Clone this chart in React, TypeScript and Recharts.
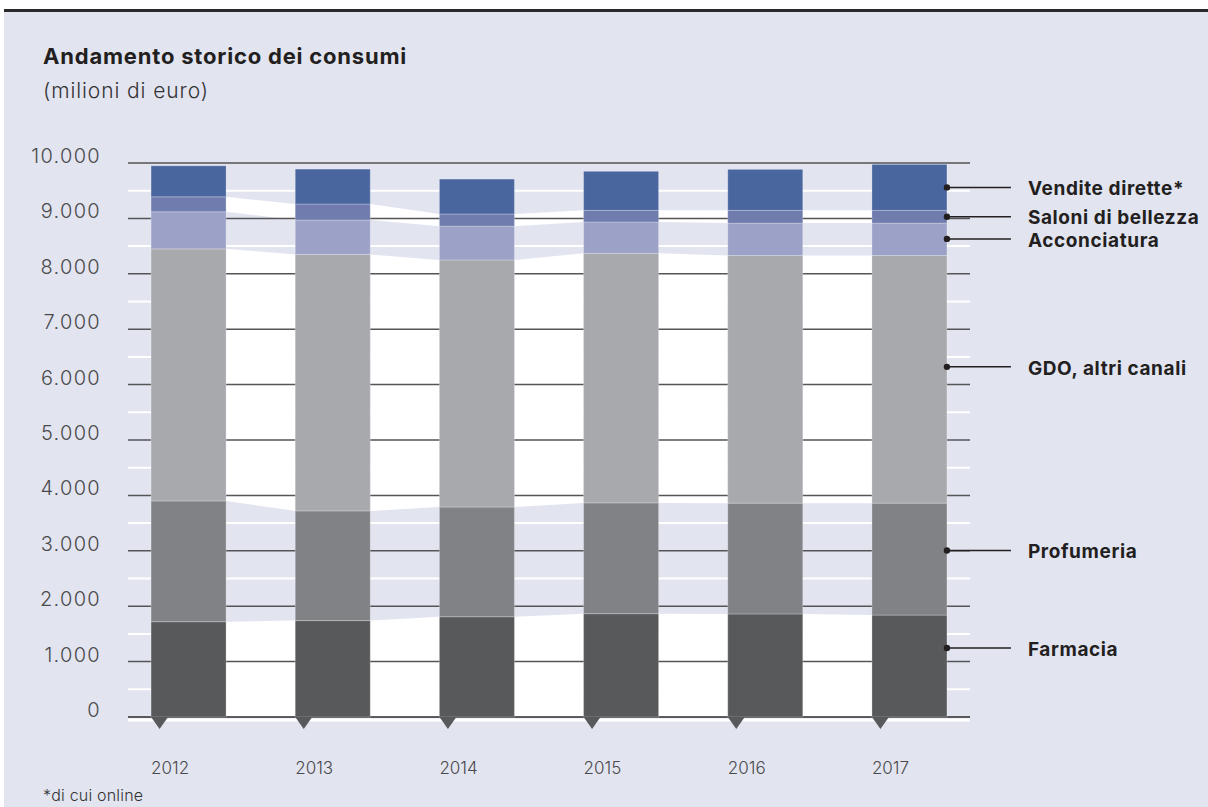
import React from "react";
import {
  ComposedChart,
  Area,
  Bar,
  XAxis,
  YAxis,
  ReferenceLine,
  ReferenceDot,
} from "recharts";

// Values, millions of euro, bottom segment first.
const years = ["2012", "2013", "2014", "2015", "2016", "2017"];
const farmacia = [1720, 1740, 1810, 1865, 1860, 1840];
const profumeria = [2180, 1980, 1980, 2000, 2000, 2020];
const gdo = [4550, 4630, 4460, 4505, 4470, 4470];
const acconciatura = [670, 620, 610, 565, 585, 585];
const saloni = [270, 290, 220, 210, 230, 230];
const vendite = [560, 630, 630, 705, 740, 830];

const seriesKeys = ["farmacia", "profumeria", "gdo", "acconciatura", "saloni", "vendite"];
const seriesNames = [
  "Farmacia",
  "Profumeria",
  "GDO, altri canali",
  "Acconciatura",
  "Saloni di bellezza",
  "Vendite dirette*",
];
const seriesColors = ["#58595b", "#818286", "#a8a9ac", "#9ca1c7", "#707cae", "#4a669f"];
// where each legend pointer touches the 2017 bar
const labelAnchors = [1245, 3005, 6320, 8630, 9030, 9560];
// bands that are painted white between bars (the others stay lavender)
const whiteBands = ["farmacia", "gdo", "saloni"];

const yTicks = [0, 1000, 2000, 3000, 4000, 5000, 6000, 7000, 8000, 9000, 10000];
const yHalfTicks = [500, 1500, 2500, 3500, 4500, 5500, 6500, 7500, 8500, 9500];
const xTicks = [0, 1, 2, 3, 4, 5];

const seriesValues = [farmacia, profumeria, gdo, acconciatura, saloni, vendite];
const HALF = 0.26; // half bar width, in year units
const BAR_W = 75; // same width in px

// every year gives a left edge, a centre (bar) and a right edge row
const rows: any[] = [];
years.forEach((year, i) => {
  let sum = 0;
  const band: any = {};
  const bar: any = { year };
  seriesKeys.forEach((k, j) => {
    band["band_" + k] = [sum, sum + seriesValues[j][i]];
    bar[k] = seriesValues[j][i];
    sum += seriesValues[j][i];
  });
  rows.push({ x: i - HALF, ...band });
  rows.push({ x: i, ...bar });
  rows.push({ x: i + HALF, ...band });
});

const FONT = "Inter, 'Noto Sans', sans-serif";
const INK = "#231f20";
const BG = "#e2e4f0";

const fmt = (v: number) => String(v).replace(/\B(?=(\d{3})+(?!\d))/g, ".");

function YTick(props: any) {
  const { x, y, payload } = props;
  return (
    <text
      x={x - 27}
      y={y - 7}
      dy="0.35em"
      textAnchor="end"
      fontFamily={FONT}
      fontWeight={300}
      fontSize={20}
      letterSpacing={1.3}
      fill="#4a4a4c"
    >
      {fmt(payload.value)}
    </text>
  );
}

function XTick(props: any) {
  const { x, y, payload } = props;
  const left = x - BAR_W / 2;
  return (
    <g>
      <polygon
        points={`${left},${y} ${left + 17},${y} ${left + 8.5},${y + 12}`}
        fill="#58595b"
      />
      <text
        x={left}
        y={y + 57}
        textAnchor="start"
        fontFamily={FONT}
        fontWeight={300}
        fontSize={17}
        fill="#4a4a4c"
      >
        {years[payload.value]}
      </text>
    </g>
  );
}

// fixed-width segment centred on the position the bar scale gives
function Segment(props: any) {
  const { x, y, width, height, fill } = props;
  if (!height || height <= 0) return null;
  const cx = x + width / 2;
  return (
    <rect
      x={cx - BAR_W / 2}
      y={y}
      width={BAR_W}
      height={height}
      fill={fill}
      stroke="#ffffff"
      strokeOpacity={0.25}
      strokeWidth={1}
    />
  );
}

const pointer = (label: string) => (props: any) => {
  const { cx, cy } = props;
  return (
    <g>
      <circle cx={cx} cy={cy} r={3.2} fill={INK} />
      <line x1={cx} y1={cy} x2={cx + 64} y2={cy} stroke={INK} strokeWidth={1.5} />
      <text
        x={cx + 81}
        y={cy + 1}
        dy="0.35em"
        fontFamily={FONT}
        fontWeight={700}
        fontSize={19}
        letterSpacing={0.6}
        fill={INK}
      >
        {label}
      </text>
    </g>
  );
};

export default function App() {
  return (
    <div
      style={{
        position: "absolute",
        left: 0,
        top: 0,
        width: 1208,
        height: 807,
        background: "#fff",
        overflow: "hidden",
        fontFamily: FONT,
      }}
    >
      <div style={{ position: "absolute", left: 4, top: 9, width: 1204, height: 3, background: "#2a2a2a" }} />
      <div style={{ position: "absolute", left: 4, top: 12, width: 1204, height: 795, background: BG }} />
      <div
        style={{
          position: "absolute",
          left: 43,
          top: 45,
          fontSize: 22,
          lineHeight: "22px",
          fontWeight: 700,
          color: INK,
          letterSpacing: 0.8,
          whiteSpace: "nowrap",
        }}
      >
        Andamento storico dei consumi
      </div>
      <div
        style={{
          position: "absolute",
          left: 43,
          top: 79,
          fontSize: 21,
          lineHeight: "24px",
          fontWeight: 300,
          color: "#333",
          letterSpacing: 0.9,
          whiteSpace: "nowrap",
        }}
      >
        (milioni di euro)
      </div>
      <div
        style={{
          position: "absolute",
          left: 43,
          top: 786,
          fontSize: 16,
          lineHeight: "18px",
          fontWeight: 300,
          color: "#333",
          letterSpacing: 0.2,
          whiteSpace: "nowrap",
        }}
      >
        *di cui online
      </div>
      <div style={{ position: "absolute", left: 0, top: 0 }}>
        <ComposedChart
          width={1208}
          height={807}
          data={rows}
          margin={{ top: 163, right: 238, bottom: 30, left: 68 }}
        >
          <XAxis
            dataKey="x"
            type="number"
            domain={[-0.42, 5.42]}
            ticks={xTicks}
            tick={XTick}
            axisLine={false}
            tickLine={false}
            tickSize={0}
            tickMargin={0}
            height={60}
            interval={0}
          />
          <YAxis
            type="number"
            domain={[0, 10000]}
            ticks={yTicks}
            tick={YTick}
            axisLine={false}
            tickLine={false}
            tickSize={0}
            tickMargin={0}
            width={60}
            interval={0}
          />
          {whiteBands.map((k) => (
            <Area
              key={k}
              dataKey={"band_" + k}
              fill="#ffffff"
              fillOpacity={1}
              stroke="none"
              type="linear"
              dot={false}
              activeDot={false}
              isAnimationActive={false}
              zIndex={100}
            />
          ))}
          <ReferenceLine y={-55} stroke="#ffffff" strokeWidth={3} ifOverflow="visible" zIndex={200} />
          {yHalfTicks.map((v) => (
            <ReferenceLine key={"h" + v} y={v} stroke="#ffffff" strokeWidth={2} zIndex={200} />
          ))}
          {yTicks.map((v) => (
            <ReferenceLine
              key={"t" + v}
              y={v}
              stroke={v === 10000 ? "#77777a" : v === 0 ? "#2a2a2c" : "#555558"}
              strokeWidth={v === 10000 ? 2 : 1.5}
              zIndex={200}
            />
          ))}
          {seriesKeys.map((k, j) => (
            <Bar
              key={k}
              dataKey={k}
              stackId="s"
              fill={seriesColors[j]}
              shape={Segment}
              isAnimationActive={false}
              zIndex={300}
            />
          ))}
          {seriesKeys.map((k, j) => (
            <ReferenceDot
              key={"p" + k}
              x={5 + HALF}
              y={labelAnchors[j]}
              r={3}
              shape={pointer(seriesNames[j])}
              zIndex={600}
            />
          ))}
        </ComposedChart>
      </div>
    </div>
  );
}
